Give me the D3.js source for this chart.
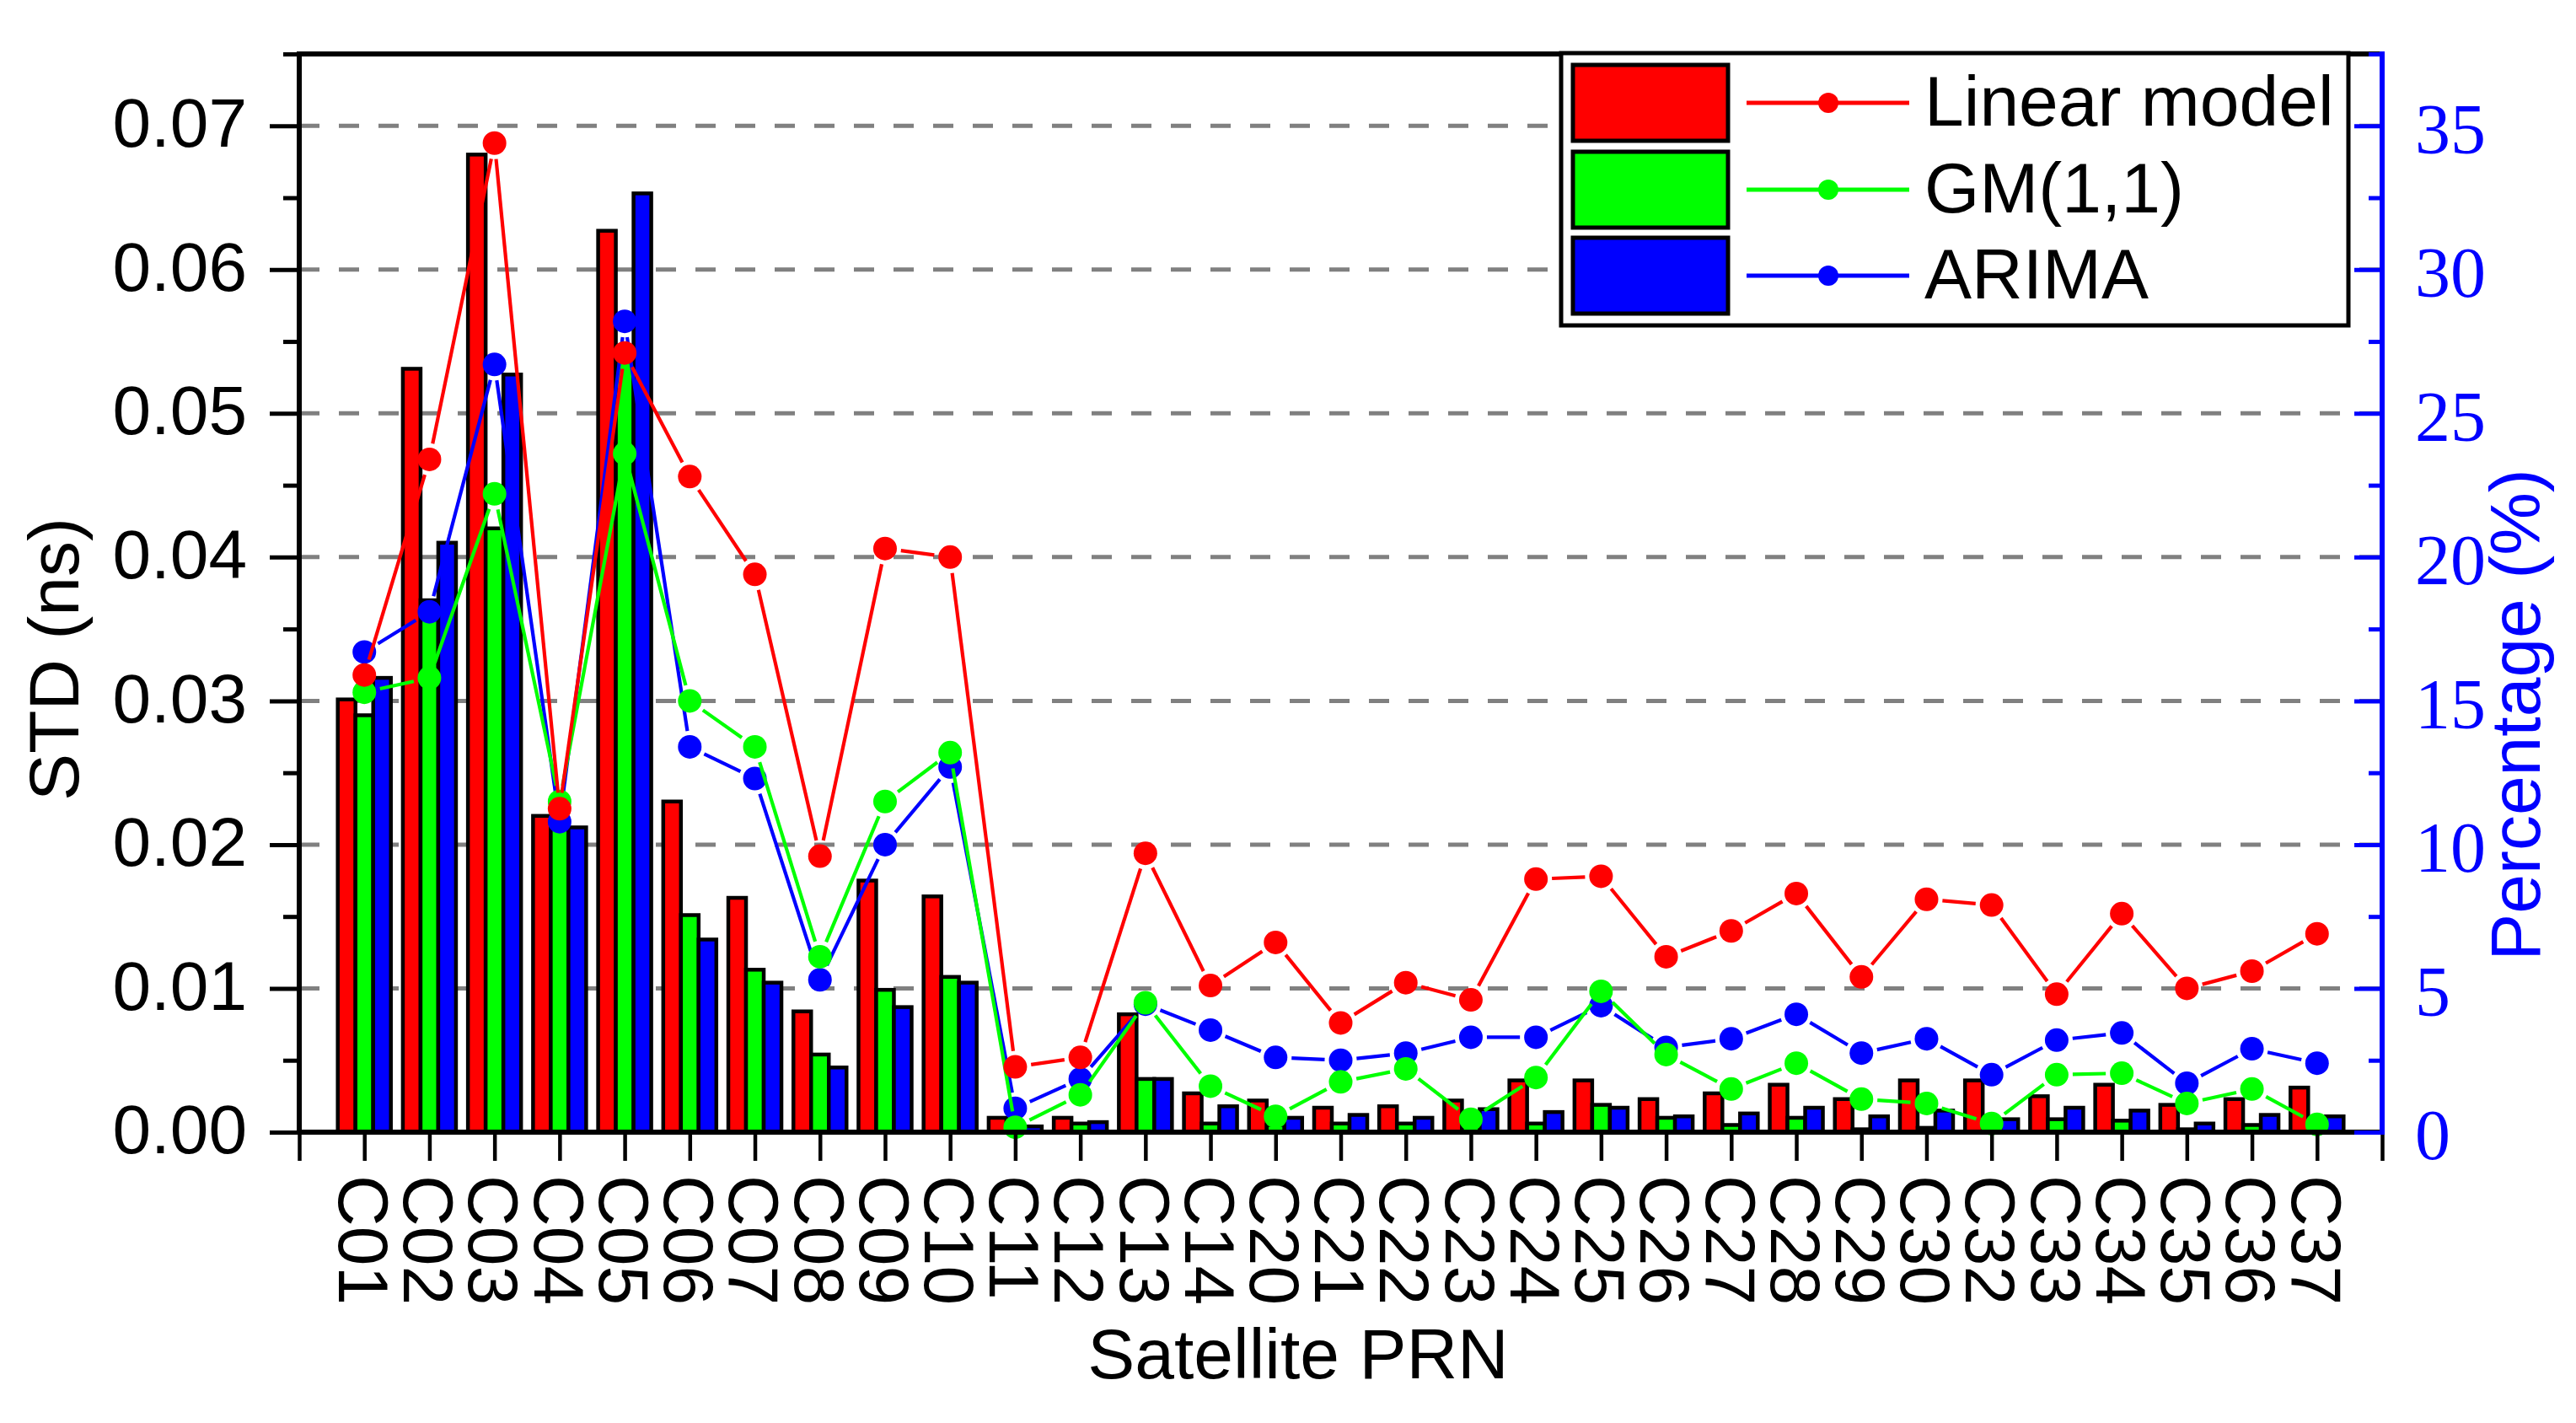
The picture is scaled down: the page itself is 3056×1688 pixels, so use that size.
<!DOCTYPE html>
<html><head><meta charset="utf-8">
<script src="https://cdn.jsdelivr.net/npm/d3@7"></script>
<style>html,body{margin:0;padding:0;background:#fff;} svg{display:block;}</style>
</head><body>
<script>
// ---------------- data ----------------
const categories = ["C01","C02","C03","C04","C05","C06","C07","C08","C09","C10","C11","C12","C13","C14",
  "C20","C21","C22","C23","C24","C25","C26","C27","C28","C29","C30","C32","C33","C34","C35","C36","C37"];
const seriesNames = ["Linear model","GM(1,1)","ARIMA"];
// bars: STD (ns)
const linearStd = [0.0301,0.0531,0.0680,0.0220,0.0627,0.0230,0.0163,0.0084,0.0175,0.0164,0.0010,0.0010,0.0082,0.0027,
  0.0022,0.0017,0.0018,0.0022,0.0036,0.0036,0.0023,0.0027,0.0033,0.0023,0.0036,0.0036,0.0025,0.0033,0.0019,0.0023,0.0031];
const gmStd = [0.0290,0.0370,0.0420,0.0216,0.0540,0.0151,0.0113,0.0054,0.0099,0.0108,0.0003,0.0006,0.0037,0.0006,
  0.0005,0.0006,0.0006,0.0008,0.0006,0.0019,0.0010,0.0005,0.0010,0.0002,0.0003,0.0003,0.0009,0.0008,0.0002,0.0005,0.0003];
const arimaStd = [0.0316,0.0410,0.0527,0.0212,0.0653,0.0134,0.0104,0.0045,0.0087,0.0104,0.0004,0.0007,0.0037,0.0018,
  0.0010,0.0012,0.0010,0.0016,0.0014,0.0017,0.0011,0.0013,0.0017,0.0011,0.0015,0.0009,0.0017,0.0015,0.0006,0.0012,0.0011];
// lines: Percentage (%)
const linearPct = [15.9,23.4,34.4,11.25,27.1,22.8,19.4,9.6,20.3,20.0,2.27,2.6,9.7,5.1,
  6.6,3.8,5.2,4.6,8.8,8.9,6.1,7.0,8.3,5.4,8.1,7.9,4.8,7.6,5.0,5.6,6.9];
const gmPct = [15.3,15.8,22.2,11.5,23.6,15.0,13.4,6.1,11.5,13.2,0.17,1.3,4.5,1.6,
  0.55,1.75,2.2,0.45,1.9,4.9,2.7,1.5,2.4,1.15,1.0,0.3,2.0,2.05,1.0,1.5,0.27];
const arimaPct = [16.7,18.1,26.7,10.8,28.2,13.4,12.3,5.3,10.0,12.7,0.83,1.85,4.45,3.55,
  2.6,2.5,2.75,3.3,3.3,4.4,2.95,3.25,4.1,2.75,3.25,2.0,3.2,3.45,1.7,2.9,2.4];
// ticks
const leftTicks = [0,0.01,0.02,0.03,0.04,0.05,0.06,0.07];
const leftMinorTicks = [0.005,0.015,0.025,0.035,0.045,0.055,0.065,0.075];
const rightTicks = [0,5,10,15,20,25,30,35];
const rightMinorTicks = [2.5,7.5,12.5,17.5,22.5,27.5,32.5,37.5];

// ---------------- layout ----------------
const W = 3056, H = 1688;
const m = {left:355, right:2826, top:64, bottom:1343};
const colors = ["#ff0000","#00ff00","#0000ff"];
const sans = "'Liberation Sans', Arial, sans-serif";
const serif = "'Liberation Serif', 'Times New Roman', serif";

const svg = d3.select("body").append("svg").attr("width", W).attr("height", H);
svg.append("rect").attr("width", W).attr("height", H).attr("fill", "#fff");

const x = d3.scaleLinear().domain([0, categories.length + 1]).range([m.left, m.right]);
const yL = d3.scaleLinear().domain([0, 0.075]).range([m.bottom, m.top]);
const yR = d3.scaleLinear().domain([0, 37.5]).range([m.bottom, m.top]);

// gridlines
svg.append("g").selectAll("line").data(leftTicks.filter(d => d > 0)).join("line")
  .attr("x1", m.left).attr("x2", m.right)
  .attr("y1", d => yL(d)).attr("y2", d => yL(d))
  .attr("stroke", "#808080").attr("stroke-width", 5).attr("stroke-dasharray", "24,23");

// bars
const bw = (x(1) - x(0)) * 0.272;
[linearStd, gmStd, arimaStd].forEach((arr, k) => {
  svg.append("g").selectAll("rect").data(arr).join("rect")
    .attr("x", (d, i) => x(i + 1) + (k - 1.5) * bw)
    .attr("width", bw)
    .attr("y", d => yL(d))
    .attr("height", d => yL(0) - yL(d))
    .attr("fill", colors[k]).attr("stroke", "#000").attr("stroke-width", 4.5);
});

// lines with markers (blue, green, red on top)
const pcts = [linearPct, gmPct, arimaPct];
const r = 14, gap = 19;
[2, 1, 0].forEach(k => {
  const g = svg.append("g");
  const pts = pcts[k].map((v, i) => [x(i + 1), yR(v)]);
  const segs = d3.pairs(pts).map(([a, b]) => {
    const dx = b[0] - a[0], dy = b[1] - a[1], L = Math.hypot(dx, dy);
    if (L < 2 * gap + 2) return null;
    return [a[0] + dx / L * gap, a[1] + dy / L * gap, b[0] - dx / L * gap, b[1] - dy / L * gap];
  }).filter(Boolean);
  g.selectAll("line").data(segs).join("line")
    .attr("x1", d => d[0]).attr("y1", d => d[1]).attr("x2", d => d[2]).attr("y2", d => d[3])
    .attr("stroke", colors[k]).attr("stroke-width", 4.2);
  g.selectAll("circle").data(pts).join("circle")
    .attr("cx", d => d[0]).attr("cy", d => d[1]).attr("r", r).attr("fill", colors[k]);
});

// frame lines
svg.append("line").attr("x1", m.left).attr("x2", m.right).attr("y1", m.top).attr("y2", m.top)
  .attr("stroke", "#000").attr("stroke-width", 6);
svg.append("line").attr("x1", m.left).attr("x2", m.left).attr("y1", m.top - 3).attr("y2", m.bottom + 3)
  .attr("stroke", "#000").attr("stroke-width", 6);
svg.append("line").attr("x1", m.left - 3).attr("x2", m.right).attr("y1", m.bottom).attr("y2", m.bottom)
  .attr("stroke", "#000").attr("stroke-width", 6);

// bottom axis ticks
const gB = svg.append("g").attr("transform", `translate(0,${m.bottom})`)
  .call(d3.axisBottom(x).tickValues(d3.range(0, categories.length + 2)).tickSize(34).tickSizeOuter(0).tickFormat(""));
gB.select(".domain").remove();
gB.selectAll(".tick line").attr("stroke", "#000").attr("stroke-width", 4.5);

// x labels rotated
svg.append("g").selectAll("text").data(categories).join("text")
  .attr("transform", (d, i) => `translate(${x(i + 1)},1394) rotate(90)`)
  .attr("dy", "0.36em").attr("text-anchor", "start")
  .attr("font-family", sans).attr("font-size", 84).attr("fill", "#000")
  .text(d => d);

// left axis
const gL = svg.append("g").attr("transform", `translate(${m.left},0)`)
  .call(d3.axisLeft(yL).tickValues(leftTicks).tickSize(35).tickSizeOuter(0).tickPadding(27).tickFormat(d3.format(".2f")));
gL.select(".domain").remove();
gL.selectAll(".tick line").attr("stroke", "#000").attr("stroke-width", 5);
gL.selectAll(".tick text").attr("font-family", sans).attr("font-size", 82).attr("fill", "#000").attr("dy", "0.3em");
const gLm = svg.append("g").attr("transform", `translate(${m.left},0)`)
  .call(d3.axisLeft(yL).tickValues(leftMinorTicks).tickSize(19).tickSizeOuter(0).tickFormat(""));
gLm.select(".domain").remove();
gLm.selectAll(".tick line").attr("stroke", "#000").attr("stroke-width", 5);

// right axis (blue)
svg.append("line").attr("x1", m.right).attr("x2", m.right).attr("y1", m.top - 3).attr("y2", m.bottom + 3)
  .attr("stroke", "#0000ff").attr("stroke-width", 6);
const gR = svg.append("g").attr("transform", `translate(${m.right},0)`)
  .call(d3.axisRight(yR).tickValues(rightTicks).tickSizeInner(-33).tickSizeOuter(0).tickPadding(39).tickFormat(d3.format("d")));
gR.select(".domain").remove();
gR.selectAll(".tick line").attr("stroke", "#0000ff").attr("stroke-width", 5);
gR.selectAll(".tick text").attr("font-family", serif).attr("font-size", 84).attr("fill", "#0000ff").attr("dy", "0.38em");
const gRm = svg.append("g").attr("transform", `translate(${m.right},0)`)
  .call(d3.axisRight(yR).tickValues(rightMinorTicks).tickSizeInner(-16).tickSizeOuter(0).tickFormat(""));
gRm.select(".domain").remove();
gRm.selectAll(".tick line").attr("stroke", "#0000ff").attr("stroke-width", 5);

// axis titles
svg.append("text").attr("transform", "translate(93,782) rotate(-90)")
  .attr("text-anchor", "middle").attr("font-family", sans).attr("font-size", 84).attr("fill", "#000")
  .text("STD (ns)");
svg.append("text").attr("transform", "translate(3013,848) rotate(-90)")
  .attr("text-anchor", "middle").attr("font-family", sans).attr("font-size", 84).attr("fill", "#0000ff")
  .text("Percentage (%)");
svg.append("text").attr("x", 1540).attr("y", 1635)
  .attr("text-anchor", "middle").attr("font-family", sans).attr("font-size", 84).attr("fill", "#000")
  .text("Satellite PRN");

// legend
const lg = svg.append("g");
lg.append("rect").attr("x", 1852).attr("y", 63).attr("width", 934).attr("height", 323)
  .attr("fill", "#fff").attr("stroke", "#000").attr("stroke-width", 5);
const rowY = [122, 225, 327];
seriesNames.forEach((name, k) => {
  lg.append("rect").attr("x", 1866).attr("y", rowY[k] - 45).attr("width", 184).attr("height", 90)
    .attr("fill", colors[k]).attr("stroke", "#000").attr("stroke-width", 5);
  lg.append("line").attr("x1", 2072).attr("x2", 2265).attr("y1", rowY[k]).attr("y2", rowY[k])
    .attr("stroke", colors[k]).attr("stroke-width", 5);
  lg.append("circle").attr("cx", 2169).attr("cy", rowY[k]).attr("r", 12).attr("fill", colors[k]);
  lg.append("text").attr("x", 2283).attr("y", rowY[k] + 27)
    .attr("font-family", sans).attr("font-size", 84).attr("fill", "#000").text(name);
});
</script>
</body></html>
